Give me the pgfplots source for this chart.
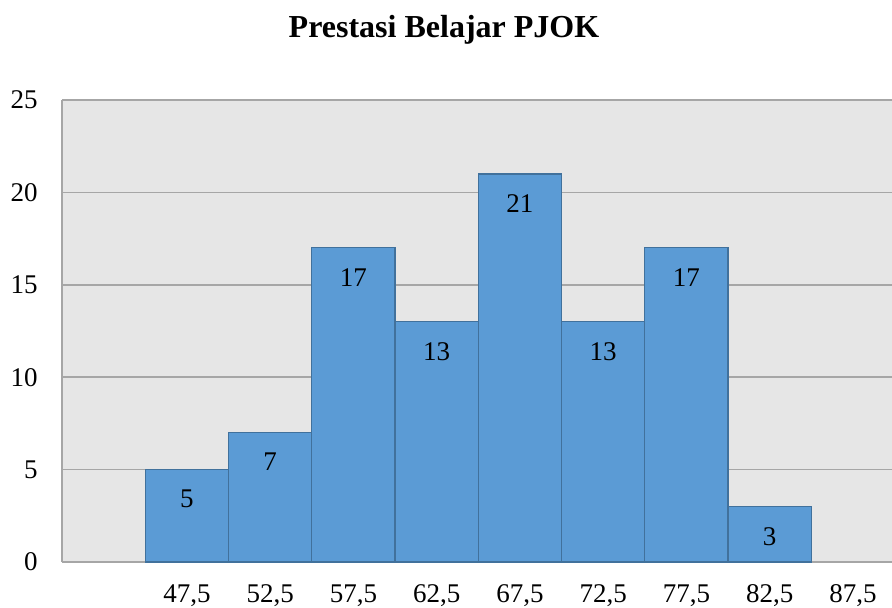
\documentclass[border=0pt]{standalone}
\usepackage{pgfplots}
\pgfplotsset{compat=1.18}
\usepackage{fontspec}
\setmainfont{Liberation Serif}
\definecolor{barblue}{HTML}{5B9BD5}
\definecolor{baredge}{HTML}{41719C}
\definecolor{bggray}{HTML}{E6E6E6}
\definecolor{gridgray}{HTML}{A6A6A6}
\begin{document}
\begin{tikzpicture}
\begin{axis}[
  scale only axis,
  width=415pt, height=231pt,
  xmin=0, xmax=9.97, ymin=0, ymax=25,
  axis x line=bottom, axis y line=left,
  axis line style={gridgray, line width=0.8pt, -},
  axis background/.style={fill=bggray},
  ymajorgrids, grid style={gridgray, line width=0.8pt},
  major tick length=0pt,
  ytick={0,5,10,15,20,25},
  xtick={1.5,2.5,3.5,4.5,5.5,6.5,7.5,8.5,9.5},
  xticklabels={{47,5},{52,5},{57,5},{62,5},{67,5},{72,5},{77,5},{82,5},{87,5}},
  /pgf/number format/assume math mode=true,
  tick label style={font=\fontsize{13.5}{16}\selectfont},
  yticklabel style={xshift=-8.7pt},
  xticklabel style={yshift=-7.7pt},
  title={Prestasi Belajar PJOK},
  title style={at={(axis description cs:0.4602,1)}, anchor=base, yshift=25pt, font=\fontsize{16}{19}\selectfont\bfseries},
  clip=false,
]
\addplot[ybar, bar width=1, fill=barblue, draw=baredge, line width=0.6pt,
  nodes near coords,
  every node near coord/.append style={anchor=north, yshift=-6.7pt, font=\fontsize{13.5}{16}\selectfont, text=black}]
  coordinates {(1.5,5) (2.5,7) (3.5,17) (4.5,13) (5.5,21) (6.5,13) (7.5,17) (8.5,3)};
\end{axis}
\pgfresetboundingbox
\path[use as bounding box] (-31pt,-23pt) rectangle (415pt,281pt);
\end{tikzpicture}
\end{document}
